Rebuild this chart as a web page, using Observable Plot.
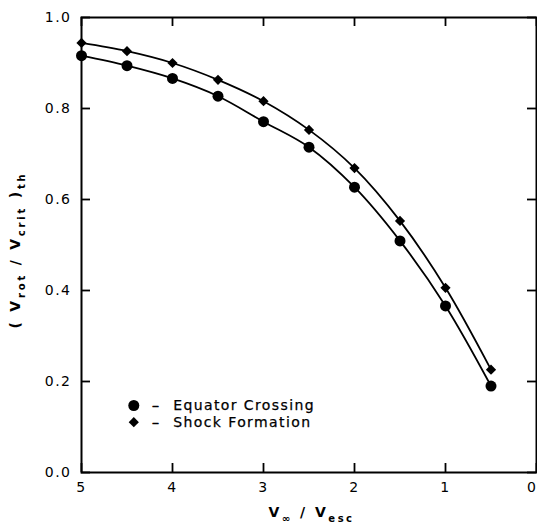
<!DOCTYPE html>
<html>
<head>
<meta charset="utf-8">
<script src="https://cdn.jsdelivr.net/npm/d3@7"></script>
<script src="https://cdn.jsdelivr.net/npm/@observablehq/plot@0.6"></script>
<style>
  body { margin: 0; background: #fff; }
  #chart svg { font-family: "DejaVu Sans", sans-serif; background: #fff; }
  #chart svg g[aria-label$="tick label"] text { letter-spacing: 1.5px; }
  #chart svg g[aria-label="text"] text { letter-spacing: 1.4px; }
</style>
</head>
<body>
<div id="chart"></div>
<script>
// Terminal-speed ratio v_inf / v_esc
const vRatio = [5, 4.5, 4, 3.5, 3, 2.5, 2, 1.5, 1, 0.5];
// Threshold rotation (v_rot / v_crit)_th for each criterion
const equatorCrossing = [0.916, 0.894, 0.866, 0.827, 0.771, 0.715, 0.627, 0.509, 0.366, 0.190];
const shockFormation  = [0.944, 0.926, 0.900, 0.863, 0.816, 0.753, 0.669, 0.553, 0.406, 0.226];

const seriesNames = ["Equator Crossing", "Shock Formation"];
const seriesSymbols = ["circle", "diamond2"];
const seriesRadius = [5.5, 4.6];

const xTicks = [5, 4, 3, 2, 1];
const xTickEnd = [0];
const yTicks = [0, 0.2, 0.4, 0.6, 0.8, 1.0];

const W = 537, H = 524;
const mL = 81, mR = 1, mT = 17, mB = 52;
const plotW = W - mL - mR, plotH = H - mT - mB;
const tickLen = 9;

const series = [equatorCrossing, shockFormation].map((vals, s) =>
  vRatio.map((x, i) => ({x, y: vals[i], name: seriesNames[s]}))
);

const marks = [];

// Curves and symbols
series.forEach((rows, s) => {
  marks.push(Plot.line(rows, {x: "x", y: "y", curve: "catmull-rom", stroke: "black", strokeWidth: 1.8}));
  marks.push(Plot.dot(rows, {x: "x", y: "y", symbol: () => seriesSymbols[s], r: seriesRadius[s], fill: "black", stroke: "none"}));
});

// Frame and inward ticks on all four sides
const allX = xTicks.concat(xTickEnd);
marks.push(Plot.frame({stroke: "black", strokeWidth: 2}));
marks.push(Plot.tickX(allX, {x: d => d, insetTop: plotH - tickLen, stroke: "black", strokeWidth: 1.8}));
marks.push(Plot.tickX(allX, {x: d => d, insetBottom: plotH - tickLen, stroke: "black", strokeWidth: 1.8}));
marks.push(Plot.tickY(yTicks, {y: d => d, insetRight: plotW - tickLen, stroke: "black", strokeWidth: 1.8}));
marks.push(Plot.tickY(yTicks, {y: d => d, insetLeft: plotW - tickLen, stroke: "black", strokeWidth: 1.8}));

// Tick labels
const tickText = {tickSize: 0, label: null, fontSize: 14, stroke: "black", strokeWidth: 0.3, fill: "black"};
marks.push(Plot.axisX({...tickText, ticks: xTicks, tickPadding: 10, tickFormat: d3.format("d")}));
marks.push(Plot.axisX({...tickText, ticks: xTickEnd, tickPadding: 10, tickFormat: d3.format("d"), textAnchor: "end", dx: 1}));
marks.push(Plot.axisY({...tickText, ticks: yTicks, tickPadding: 10, tickFormat: d3.format(".1f")}));

// Legend
const legendY = [388, 404.7];
seriesNames.forEach((name, s) => {
  marks.push(Plot.dot([name], {frameAnchor: "top-left", dx: 52.3, dy: legendY[s], symbol: () => seriesSymbols[s], r: seriesRadius[s], fill: "black", stroke: "none"}));
  marks.push(Plot.text(["–"], {text: d => d, frameAnchor: "top-left", dx: 70.5, dy: legendY[s], textAnchor: "start", lineAnchor: "middle", fontSize: 14, fill: "black", stroke: "black", strokeWidth: 0.6}));
  marks.push(Plot.text([name], {text: d => d, frameAnchor: "top-left", dx: 91.7, dy: legendY[s], textAnchor: "start", lineAnchor: "middle", fontSize: 14, fill: "black", stroke: "black", strokeWidth: 0.25}));
});

const chart = Plot.plot({
  width: W,
  height: H,
  marginLeft: mL, marginRight: mR, marginTop: mT, marginBottom: mB,
  x: {domain: [5, 0], axis: null},
  y: {domain: [0, 1], axis: null},
  style: {fontFamily: "DejaVu Sans, sans-serif", color: "black", background: "white"},
  marks
});

// Axis titles with subscripts
const svg = d3.select(chart);
const xt = svg.append("text")
  .attr("x", mL + plotW / 2 + 3).attr("y", 517)
  .attr("text-anchor", "middle")
  .attr("font-weight", "bold").attr("font-size", 14).attr("fill", "black")
  .style("letter-spacing", "2.5px");
xt.append("tspan").text("V");
xt.append("tspan").attr("dy", 5).attr("font-size", 10).text("∞");
xt.append("tspan").attr("dy", -5).text(" / V");
xt.append("tspan").attr("dy", 5).attr("font-size", 10).text("esc");

const yt = svg.append("text")
  .attr("transform", `translate(20,250) rotate(-90)`)
  .attr("text-anchor", "middle")
  .attr("font-weight", "bold").attr("font-size", 14).attr("fill", "black")
  .style("letter-spacing", "2.8px");
yt.append("tspan").text("( V");
yt.append("tspan").attr("dy", 5).attr("font-size", 10).text("rot");
yt.append("tspan").attr("dy", -5).text(" / V");
yt.append("tspan").attr("dy", 5).attr("font-size", 10).text("crit");
yt.append("tspan").attr("dy", -5).text(" )");
yt.append("tspan").attr("dy", 5).attr("font-size", 10).text("th");

document.getElementById("chart").append(chart);
</script>
</body>
</html>
